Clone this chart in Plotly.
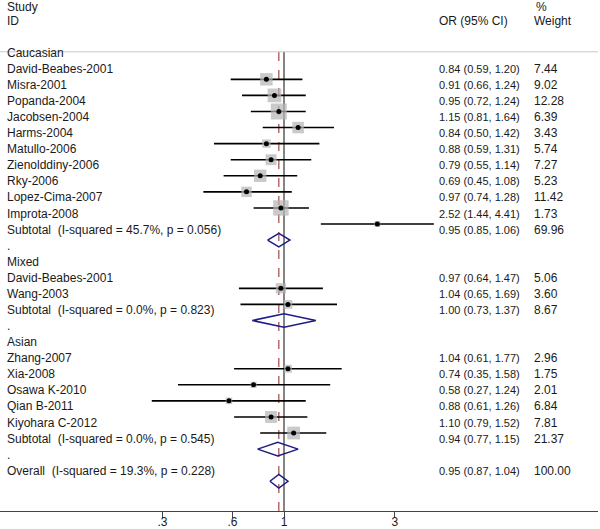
import math
import plotly.graph_objects as go

# ---------------- data ----------------
group_names = ["Caucasian", "Mixed", "Asian"]

cau_studies = ["David-Beabes-2001", "Misra-2001", "Popanda-2004", "Jacobsen-2004", "Harms-2004",
               "Matullo-2006", "Zienolddiny-2006", "Rky-2006", "Lopez-Cima-2007", "Improta-2008"]
cau_or = [0.84, 0.91, 0.95, 1.15, 0.84, 0.88, 0.79, 0.69, 0.97, 2.52]
cau_lo = [0.59, 0.66, 0.72, 0.81, 0.50, 0.59, 0.55, 0.45, 0.74, 1.44]
cau_hi = [1.20, 1.24, 1.24, 1.64, 1.42, 1.31, 1.14, 1.08, 1.28, 4.41]
cau_w = [7.44, 9.02, 12.28, 6.39, 3.43, 5.74, 7.27, 5.23, 11.42, 1.73]
cau_sub = (0.95, 0.85, 1.06, 69.96, "Subtotal  (I-squared = 45.7%, p = 0.056)")

mix_studies = ["David-Beabes-2001", "Wang-2003"]
mix_or = [0.97, 1.04]
mix_lo = [0.64, 0.65]
mix_hi = [1.47, 1.69]
mix_w = [5.06, 3.60]
mix_sub = (1.00, 0.73, 1.37, 8.67, "Subtotal  (I-squared = 0.0%, p = 0.823)")

asi_studies = ["Zhang-2007", "Xia-2008", "Osawa K-2010", "Qian B-2011", "Kiyohara C-2012"]
asi_or = [1.04, 0.74, 0.58, 0.88, 1.10]
asi_lo = [0.61, 0.35, 0.27, 0.61, 0.79]
asi_hi = [1.77, 1.58, 1.24, 1.26, 1.52]
asi_w = [2.96, 1.75, 2.01, 6.84, 7.81]
asi_sub = (0.94, 0.77, 1.15, 21.37, "Subtotal  (I-squared = 0.0%, p = 0.545)")

overall = (0.95, 0.87, 1.04, 100.00, "Overall  (I-squared = 19.3%, p = 0.228)")

tick_vals = [0.3, 0.6, 1, 3]
tick_text = [".3", ".6", "1", "3"]

groups = [
    (group_names[0], cau_studies, cau_or, cau_lo, cau_hi, cau_w, cau_sub),
    (group_names[1], mix_studies, mix_or, mix_lo, mix_hi, mix_w, mix_sub),
    (group_names[2], asi_studies, asi_or, asi_lo, asi_hi, asi_w, asi_sub),
]

# ---------------- layout constants ----------------
W, H = 600, 529
PW = 598            # plot width px
PH = 513            # plot height px
FONT = "Liberation Sans, Arial, sans-serif"
TXT = "#1a1a1a"
X_LABEL = 5 / PW
X_OR = 437 / PW
X_W = 532 / PW
YSHIFT = 10.5
MAXW = max(cau_w + mix_w + asi_w)
MAXSIZE = 16

fig = go.Figure()
ann = []


def add_text(row, text, x, size=12, yshift=YSHIFT):
    ann.append(dict(x=x, y=row, xref="paper", yref="y", text=text, showarrow=False,
                    xanchor="left", yanchor="middle", yshift=yshift,
                    font=dict(family=FONT, size=size, color=TXT)))


def add_diamond(row, est, lo, hi):
    fig.add_trace(go.Scatter(x=[lo, est, hi, est, lo], y=[row, row - 0.42, row, row + 0.42, row],
                             mode="lines", line=dict(color="#1c1c84", width=1.5),
                             hoverinfo="skip", showlegend=False))


# header
add_text(-3, "Study", X_LABEL, yshift=8)
add_text(-2, "ID", X_LABEL)
add_text(-3, "%", X_W + 2 / PW, yshift=8)
add_text(-2, "OR (95% CI)", X_OR)
add_text(-2, "Weight", X_W)

row = 0
sq_x, sq_y, sq_s = [], [], []
for gname, names, ors, los, his, ws, sub in groups:
    add_text(row, gname, X_LABEL)
    row += 1
    for n, o, l, h, w in zip(names, ors, los, his, ws):
        add_text(row, n, X_LABEL)
        add_text(row, f"{o:.2f} ({l:.2f}, {h:.2f})", X_OR, size=11)
        add_text(row, f"{w:.2f}", X_W)
        fig.add_trace(go.Scatter(x=[l, h], y=[row, row], mode="lines",
                                 line=dict(color="black", width=1.6),
                                 hoverinfo="skip", showlegend=False))
        sq_x.append(o)
        sq_y.append(row)
        sq_s.append(MAXSIZE * math.sqrt(w / MAXW))
        row += 1
    est, lo, hi, w, lab = sub
    add_text(row, lab, X_LABEL)
    add_text(row, f"{est:.2f} ({lo:.2f}, {hi:.2f})", X_OR, size=11)
    add_text(row, f"{w:.2f}", X_W)
    add_diamond(row, est, lo, hi)
    row += 1
    add_text(row, ".", X_LABEL)
    row += 1

est, lo, hi, w, lab = overall
add_text(row, lab, X_LABEL)
add_text(row, f"{est:.2f} ({lo:.2f}, {hi:.2f})", X_OR, size=11)
add_text(row, f"{w:.2f}", X_W)
add_diamond(row, est, lo, hi)

# squares and centre dots
fig.add_trace(go.Scatter(x=sq_x, y=sq_y, mode="markers",
                         marker=dict(symbol="square", size=sq_s, color="#b4b4b4", line=dict(width=0)),
                         hoverinfo="skip", showlegend=False))
fig.add_trace(go.Scatter(x=sq_x, y=sq_y, mode="markers",
                         marker=dict(symbol="circle", size=5, color="black"),
                         hoverinfo="skip", showlegend=False))

# geometry: row r marker at 63.5 + 16.14 r px from top
ROW_PX = 16.14
Y0_PX = 63.5
y_top = -Y0_PX / ROW_PX
y_bot = (PH - Y0_PX) / ROW_PX

# x: value 1 at px 284, 101 px per natural-log unit
px_per_log10 = 101 * math.log(10)
x_left = -284 / px_per_log10
x_right = (PW - 284) / px_per_log10

sep_y = 1 - 52 / PH
shapes = [
    dict(type="line", xref="paper", yref="paper", x0=0, x1=1, y0=sep_y, y1=sep_y,
         line=dict(color="#c8c8c8", width=1)),
    dict(type="line", xref="x", yref="paper", x0=1, x1=1, y0=0, y1=sep_y,
         line=dict(color="#333333", width=1.2), layer="below"),
    dict(type="line", xref="x", yref="paper", x0=overall[0], x1=overall[0], y0=0, y1=sep_y,
         line=dict(color="#a04848", width=1.2, dash="dash"), layer="below"),
]

fig.update_layout(
    width=W, height=H,
    margin=dict(l=0, r=W - PW, t=0, b=H - PH),
    paper_bgcolor="white", plot_bgcolor="white",
    annotations=ann, shapes=shapes,
    xaxis=dict(type="log", range=[x_left, x_right], showgrid=False, zeroline=False,
               showline=True, linecolor="#444444", linewidth=1.2,
               ticks="outside", ticklen=6, tickcolor="#444444",
               tickvals=tick_vals, ticktext=tick_text, ticklabelstandoff=-7,
               tickfont=dict(family=FONT, size=12, color=TXT), fixedrange=True),
    yaxis=dict(range=[y_bot, y_top], visible=False, fixedrange=True),
    font=dict(family=FONT, size=12, color=TXT),
)

fig.write_html("out.html", config={"displayModeBar": False},
               post_script="document.body.style.margin='0';document.body.style.overflow='hidden';")
